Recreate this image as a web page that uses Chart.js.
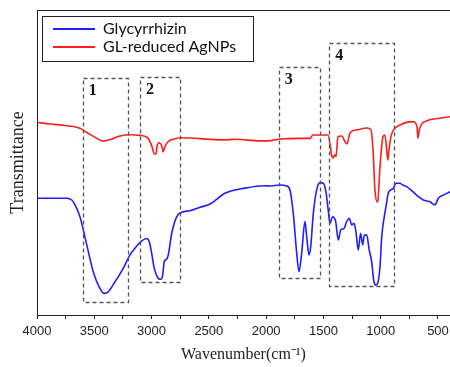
<!DOCTYPE html>
<html>
<head>
    <script src="https://cdn.jsdelivr.net/npm/chart.js"></script>
    <style>
        html, body { margin: 0; padding: 0; background: #fff; }
        #wrap { width: 450px; height: 367px; position: relative; }
    </style>
</head>
<body>
<div id="wrap"><canvas id="ftir"></canvas></div>

<script>
    // 글리시리진 (blue)
    var glyWave = [4000, 3887, 3741, 3697, 3668, 3625, 3596, 3552, 3509, 3465, 3415, 3378, 3319, 3247, 3188, 3130, 3086, 3043, 3020, 2999, 2979, 2941, 2920, 2903, 2889, 2868, 2854, 2824, 2781, 2737, 2665, 2577, 2490, 2359, 2185, 2010, 1966, 1879, 1821, 1792, 1763, 1733, 1713, 1690, 1661, 1646, 1626, 1611, 1588, 1559, 1530, 1501, 1478, 1458, 1443, 1419, 1393, 1370, 1349, 1320, 1297, 1274, 1253, 1233, 1216, 1196, 1175, 1157, 1143, 1122, 1100, 1079, 1059, 1041, 1026, 1006, 991, 971, 954, 934, 913, 890, 867, 832, 808, 773, 730, 686, 628, 570, 526, 497, 454, 395];
    var glyT = [38.3, 38.3, 38.3, 37.7, 36.1, 32.2, 27.9, 20.8, 14.2, 9.8, 7.1, 7.6, 10.9, 15.3, 19.7, 22.6, 24.3, 25.1, 24.0, 20.2, 15.8, 12.0, 11.7, 13.1, 17.5, 18.3, 19.7, 26.8, 32.2, 33.7, 34.2, 35.3, 36.4, 39.9, 41.6, 42.4, 42.3, 42.6, 42.3, 41.0, 33.3, 20.2, 14.2, 20.2, 30.6, 25.7, 19.7, 22.4, 33.3, 41.0, 43.4, 43.2, 40.4, 34.4, 30.1, 32.2, 30.6, 24.6, 27.9, 28.4, 30.6, 31.7, 29.5, 30.1, 27.3, 21.3, 26.8, 23.0, 26.2, 26.2, 21.3, 17.5, 10.9, 9.8, 10.4, 15.8, 25.7, 31.7, 35.5, 39.9, 41.0, 41.5, 43.2, 43.2, 42.6, 42.1, 40.8, 39.3, 37.7, 37.1, 36.1, 38.3, 39.3, 40.4];

    // GL-reduced AgNPs (red)
    var agWave = [4000, 3887, 3773, 3625, 3555, 3476, 3424, 3345, 3276, 3188, 3101, 3031, 2996, 2979, 2961, 2953, 2935, 2909, 2900, 2883, 2857, 2778, 2752, 2359, 2272, 2054, 1984, 1879, 1705, 1617, 1591, 1460, 1425, 1417, 1399, 1390, 1373, 1338, 1312, 1294, 1268, 1207, 1120, 1085, 1067, 1050, 1032, 1024, 1006, 980, 963, 945, 937, 928, 910, 893, 832, 718, 683, 675, 666, 648, 596, 483, 395];
    var agT = [63.2, 62.6, 62.2, 61.2, 59.6, 57.9, 57.0, 57.7, 58.7, 59.1, 58.9, 57.9, 55.2, 53.0, 52.8, 55.2, 56.5, 55.2, 53.5, 55.2, 56.8, 57.9, 58.1, 57.4, 57.6, 57.1, 57.1, 57.7, 57.9, 57.9, 59.0, 59.0, 51.9, 51.5, 52.5, 51.9, 58.5, 58.7, 56.8, 56.1, 59.7, 60.7, 61.3, 60.7, 54.1, 41.0, 37.1, 37.7, 48.6, 58.5, 59.0, 53.1, 50.8, 54.1, 58.5, 60.4, 62.3, 63.4, 61.7, 58.0, 60.1, 62.3, 63.7, 64.5, 65.0];

    var seriesNames = ['Glycyrrhizin', 'GL-reduced AgNPs'];
    var tickValues = [4000, 3750, 3500, 3250, 3000, 2750, 2500, 2250, 2000, 1750, 1500, 1250, 1000, 750, 500];

    // 점선 박스 영역
    var boxNames = ['1', '2', '3', '4'];
    var boxFrom = [3600, 3100, 1890, 1450];
    var boxTo = [3210, 2750, 1530, 880];
    var boxTop = [77.7, 78.0, 81.3, 89.2];
    var boxBottom = [4.3, 10.8, 12.1, 9.5];

    function toPoints(xs, ys) {
        return xs.map(function (x, i) { return { x: x, y: ys[i] }; });
    }

    var boxPlugin = {
        id: 'boxes',
        afterDatasetsDraw: function (chart) {
            var ctx = chart.ctx, xs = chart.scales.x, ys = chart.scales.y;
            var area = chart.chartArea;
            ctx.save();
            // 위쪽 테두리
            ctx.strokeStyle = '#222';
            ctx.lineWidth = 1;
            ctx.beginPath();
            ctx.moveTo(area.left, area.top + 0.5);
            ctx.lineTo(area.right, area.top + 0.5);
            ctx.stroke();

            ctx.strokeStyle = '#555';
            ctx.lineWidth = 1.3;
            ctx.setLineDash([4, 3]);
            for (var i = 0; i < boxNames.length; i++) {
                var x1 = xs.getPixelForValue(boxFrom[i]);
                var x2 = xs.getPixelForValue(boxTo[i]);
                var y1 = ys.getPixelForValue(boxTop[i]);
                var y2 = ys.getPixelForValue(boxBottom[i]);
                ctx.strokeRect(Math.round(x1) + 0.5, Math.round(y1) + 0.5, Math.round(x2 - x1), Math.round(y2 - y1));
                ctx.fillStyle = '#111';
                ctx.font = 'bold 16px "Liberation Serif"';
                ctx.textBaseline = 'top';
                ctx.fillText(boxNames[i], x1 + 6, y1 + 5);
            }
            ctx.setLineDash([]);

            // 범례
            var lx = 42, ly = 16, lw = 211, lh = 45;
            ctx.fillStyle = '#fff';
            ctx.fillRect(lx, ly, lw, lh);
            ctx.strokeStyle = '#222';
            ctx.lineWidth = 1;
            ctx.strokeRect(lx + 0.5, ly + 0.5, lw, lh);
            ctx.font = '16px Lato';
            ctx.textBaseline = 'middle';
            chart.data.datasets.forEach(function (ds, k) {
                var yy = ly + 13 + k * 18;
                ctx.strokeStyle = ds.borderColor;
                ctx.lineWidth = 1.8;
                ctx.beginPath();
                ctx.moveTo(53, yy);
                ctx.lineTo(95, yy);
                ctx.stroke();
                ctx.fillStyle = '#111';
                ctx.fillText(ds.label, 103, yy);
            });
            ctx.restore();
        }
    };

    var ctx = document.getElementById('ftir').getContext('2d');
    var chart = new Chart(ctx, {
        type: 'line',
        data: {
            datasets: [{
                label: seriesNames[0],
                data: toPoints(glyWave, glyT),
                borderColor: 'rgb(30,30,255)',
                borderWidth: 1.6,
                pointRadius: 0,
                cubicInterpolationMode: 'monotone'
            }, {
                label: seriesNames[1],
                data: toPoints(agWave, agT),
                borderColor: 'rgb(255,30,30)',
                borderWidth: 1.6,
                pointRadius: 0,
                cubicInterpolationMode: 'monotone'
            }]
        },
        options: {
            responsive: true,
            maintainAspectRatio: false,
            animation: false,
            layout: { padding: { top: 10, right: 0, left: 0, bottom: 0 } },
            plugins: { legend: { display: false }, tooltip: { enabled: false } },
            scales: {
                x: {
                    type: 'linear',
                    reverse: true,
                    min: 395,
                    max: 4000,
                    afterBuildTicks: function (s) {
                        s.ticks = tickValues.map(function (v) { return { value: v }; });
                    },
                    afterFit: function (s) {
                        s.height = 52;
                        s.paddingLeft = 0;
                        s.paddingRight = 0;
                    },
                    grid: { drawOnChartArea: false, tickLength: 4, tickColor: '#222' },
                    border: { color: '#222', width: 1 },
                    ticks: {
                        autoSkip: false,
                        maxRotation: 0,
                        padding: 5,
                        color: '#222',
                        font: { family: '"Liberation Sans"', size: 13 },
                        callback: function (v) { return v % 500 === 0 ? String(v) : ''; }
                    },
                    title: {
                        display: true,
                        text: 'Wavenumber(cm\u207B\u00B9)',
                        color: '#222',
                        padding: { top: 0, bottom: 3 },
                        font: { family: '"Liberation Serif"', size: 16 }
                    }
                },
                y: {
                    min: 0,
                    max: 100,
                    afterFit: function (s) { s.width = 37; },
                    grid: { display: false },
                    border: { color: '#222', width: 1 },
                    ticks: { display: false },
                    title: {
                        display: true,
                        text: 'Transmittance',
                        color: '#222',
                        padding: { top: 7, bottom: 0 },
                        font: { family: '"Liberation Serif"', size: 18 }
                    }
                }
            }
        },
        plugins: [boxPlugin]
    });
</script>
</body>
</html>
